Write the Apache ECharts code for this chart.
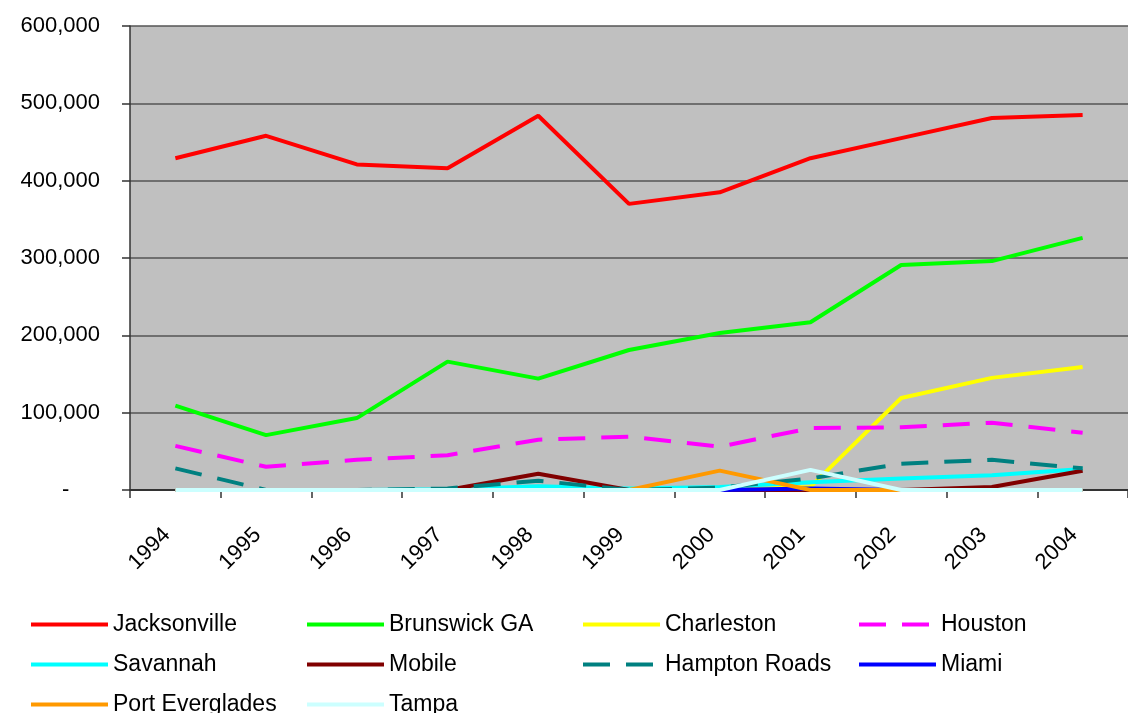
<!DOCTYPE html>
<html>
<head>
<meta charset="utf-8">
<script src="https://cdn.jsdelivr.net/npm/echarts@6/dist/echarts.min.js"></script>
<style>
  html, body { margin: 0; padding: 0; background: #fff; }
  #chart { width: 1128px; height: 713px; }
</style>
</head>
<body>
<div id="chart"></div>
<script>
// years on the x axis
const years = ['1994', '1995', '1996', '1997', '1998', '1999', '2000', '2001', '2002', '2003', '2004']

// values per port
const jacksonville = [429000, 458000, 421000, 416000, 484000, 370000, 385000, 429000, 455000, 481000, 485000]
const brunswick = [109000, 71000, 93000, 166000, 144000, 181000, 203000, 217000, 291000, 296000, 326000]
const charleston = [0, 0, 0, 0, 0, 0, 0, 4000, 119000, 145000, 159000]
const houston = [57000, 30000, 39000, 45000, 65000, 69000, 56000, 80000, 81000, 87000, 74000]
const savannah = [0, 0, 0, 1000, 5000, 2000, 4000, 10000, 15000, 19000, 27000]
const mobile = [0, 0, 0, 0, 21000, 0, 0, 0, 0, 4000, 25000]
const hamptonRoads = [28000, 0, 0, 2000, 12000, 0, 3000, 15000, 34000, 39000, 28000]
const miami = [0, 0, 0, 0, 0, 0, 0, 2000, 0, 0, 0]
const portEverglades = [0, 0, 0, 0, 0, 0, 25000, 0, 0, 0, 0]
const tampa = [0, 0, 0, 0, 0, 0, 0, 26000, 0, 0, 0]

// y axis ticks
const yTicks = [0, 100000, 200000, 300000, 400000, 500000, 600000]

const font = 'Liberation Sans, Arial, sans-serif'

function line(name, data, color, dashed) {
  return {
    name: name,
    type: 'line',
    data: data,
    symbol: 'none',
    lineStyle: {
      color: color,
      width: 4,
      type: dashed ? [27, 16] : 'solid'
    },
    itemStyle: { color: color },
    emphasis: { disabled: true }
  }
}

const option = {
  animation: false,
  grid: {
    left: 130,
    top: 26,
    width: 1014,
    bottom: 223,
    show: true,
    backgroundColor: '#C0C0C0',
    borderWidth: 0
  },
  legend: {
    left: 29,
    top: 613,
    width: 1100,
    padding: 0,
    itemWidth: 77,
    itemHeight: 4,
    itemGap: 17,
    itemTextGap: 5,
    lineStyle: { width: 4 },
    itemStyle: { opacity: 0 },
    textStyle: {
      fontFamily: font,
      fontSize: 23,
      color: '#000',
      width: 175,
      lineHeight: 22
    }
  },
  xAxis: {
    type: 'category',
    data: years,
    boundaryGap: true,
    axisLine: { lineStyle: { color: '#333', width: 2 } },
    axisTick: { show: true, length: 8, lineStyle: { color: '#333', width: 1.5 } },
    axisLabel: {
      interval: 0,
      rotate: 45,
      margin: 33,
      padding: [0, 12, 0, 0],
      fontFamily: font,
      fontSize: 22,
      color: '#000'
    }
  },
  yAxis: {
    type: 'value',
    min: yTicks[0],
    max: yTicks[yTicks.length - 1],
    interval: 100000,
    axisLine: { show: true, lineStyle: { color: '#333', width: 1.5 } },
    axisTick: { show: true, length: 8, lineStyle: { color: '#333', width: 1.5 } },
    splitLine: { show: true, lineStyle: { color: '#555', width: 1.5 } },
    axisLabel: {
      margin: 30,
      fontFamily: font,
      fontSize: 22,
      color: '#000',
      formatter: function (v) {
        return v === 0 ? '-     ' : v.toLocaleString('en-US')
      }
    }
  },
  series: [
    line('Jacksonville', jacksonville, '#FF0000'),
    line('Brunswick GA', brunswick, '#00FF00'),
    line('Charleston', charleston, '#FFFF00'),
    line('Houston', houston, '#FF00FF', true),
    line('Savannah', savannah, '#00FFFF'),
    line('Mobile', mobile, '#800000'),
    line('Hampton Roads', hamptonRoads, '#008080', true),
    line('Miami', miami, '#0000FF'),
    line('Port Everglades', portEverglades, '#FF9900'),
    line('Tampa', tampa, '#CCFFFF')
  ]
}

let chartDom = document.getElementById('chart')
let chart = echarts.init(chartDom)
chart.setOption(option)
</script>
</body>
</html>
